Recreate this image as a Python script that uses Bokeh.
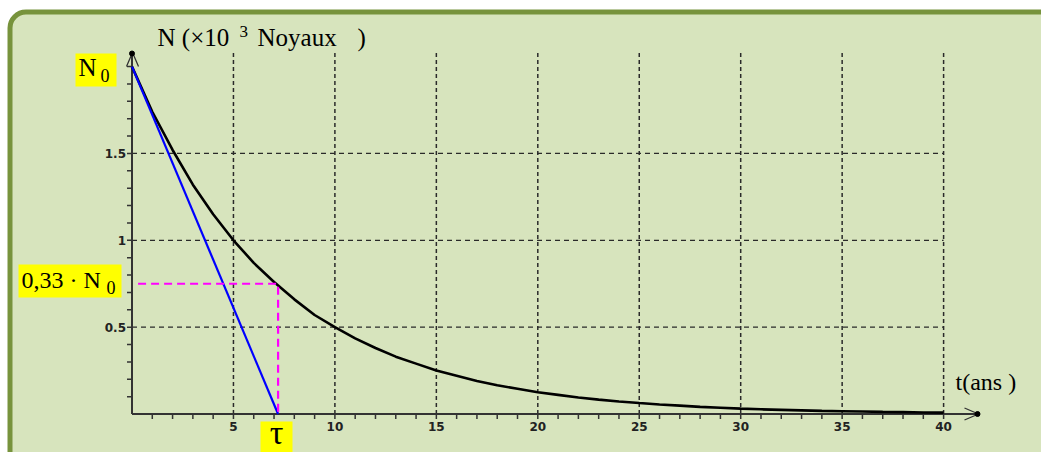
import numpy as np
from bokeh.plotting import figure
from bokeh.models import BoxAnnotation, Range1d, Grid
from bokeh.core.properties import value
from bokeh.embed import file_html
from bokeh.resources import INLINE

# ---------------- data ----------------
t_years = list(range(0, 41))
N_kilo = [2.0, 1.74, 1.52, 1.32, 1.15, 1.0, 0.87, 0.76, 0.66, 0.57,
          0.5, 0.435, 0.38, 0.33, 0.29, 0.25, 0.22, 0.19, 0.165, 0.145,
          0.125, 0.11, 0.095, 0.083, 0.072, 0.063, 0.055, 0.048, 0.041, 0.036,
          0.031, 0.027, 0.024, 0.021, 0.018, 0.016, 0.014, 0.012, 0.011, 0.009,
          0.008]
tangent_t = [0.0, 7.2]
tangent_N = [2.0, 0.0]
tau_value = 7.2
N_tau = 0.75
x_ticks = [5, 10, 15, 20, 25, 30, 35, 40]
x_tick_labels = ["5", "10", "15", "20", "25", "30", "35", "40"]
y_ticks = [0.5, 1.0, 1.5]
y_tick_labels = ["0.5", "1", "1.5"]
x_minor = list(range(1, 41))
y_minor = [round(0.1 * k, 1) for k in range(1, 21)]

# ---------------- pixel geometry ----------------
W, H = 1041, 452
PX0, PXU = 131.5, 20.29   # pixel of t=0, pixels per year
PY0, PYU = 413.5, 173.7   # pixel of N=0, pixels per unit


def X(px):
    return (px - PX0) / PXU


def Y(py):
    return (PY0 - py) / PYU


def dx(n):
    return n / PXU


def dy(n):
    return n / PYU


p = figure(width=W, height=H,
           x_range=Range1d(X(0), X(W)), y_range=Range1d(Y(H), Y(0)),
           output_backend="svg", toolbar_location=None, min_border=0,
           x_axis_location=None, y_axis_location=None,
           outline_line_color=None, background_fill_color="white",
           border_fill_color="white")
for r in list(p.center):
    if isinstance(r, Grid):
        r.visible = False

# green rounded panel
panel = BoxAnnotation(left=X(9.5), right=X(1090), top=Y(11.5), bottom=Y(490),
                      fill_color="#d7e4bd", fill_alpha=1.0,
                      line_color="#77933c", line_width=5, line_alpha=1.0,
                      border_radius=16, level="underlay")
p.add_layout(panel)

SERIF = value("Liberation Serif")
SANS = value("DejaVu Sans")
GRID_C = "#2a2a2a"
AX_C = "#333333"

# grid lines
p.segment(x0=x_ticks, y0=0, x1=x_ticks, y1=Y(50), line_color=GRID_C,
          line_width=1.5, line_dash="4 3")
p.segment(x0=0, y0=y_ticks, x1=40, y1=y_ticks, line_color=GRID_C,
          line_width=1.3, line_dash="5 4")

# minor ticks
p.segment(x0=x_minor, y0=0, x1=x_minor, y1=-dy(5), line_color=AX_C, line_width=1.5)
p.segment(x0=-dx(5), y0=y_minor, x1=0, y1=y_minor, line_color=AX_C, line_width=1.5)

# axes with arrows
p.line([0, X(978)], [0, 0], line_color=AX_C, line_width=2)
p.line([0, 0], [0, Y(52)], line_color=AX_C, line_width=2)
p.line([X(964), X(978), X(964)], [dy(6), 0, -dy(6)], line_color=AX_C, line_width=1.3)
p.line([X(126), X(132), X(138)], [Y(66), Y(52), Y(66)], line_color=AX_C, line_width=1.3)
p.scatter([X(977)], [0], size=5, color="black")
p.scatter([0], [Y(53)], size=5, color="black")

# yellow highlight boxes
p.quad(left=[X(75), X(18), X(260)], right=[X(116), X(121), X(292)],
       top=[Y(53), Y(264), Y(421)], bottom=[Y(86), Y(297), Y(452)],
       fill_color="#ffff00", line_color=None)

# curves
p.line(t_years, N_kilo, line_color="black", line_width=2.6)
p.line(tangent_t, tangent_N, line_color="#0000ff", line_width=2.2)
p.line([0.3, tau_value, tau_value], [N_tau, N_tau, 0], line_color="#ff00ff",
       line_width=2.2, line_dash="8 5")

# tick labels
p.text(x=x_ticks, y=-dy(8), text=x_tick_labels, text_align="center",
       text_baseline="top", text_font=SANS, text_font_size="12px",
       text_font_style="bold", text_color="#222222")
p.text(x=-dx(6), y=y_ticks, text=y_tick_labels, text_align="right",
       text_baseline="middle", text_font=SANS, text_font_size="12px",
       text_font_style="bold", text_color="#222222")


# serif annotations (py = vertical middle of the text line)
def serif_text(px, py, s, size, align="left"):
    p.text(x=[X(px)], y=[Y(py)], text=[s], text_font=SERIF,
           text_font_size=f"{size}px", text_color="black",
           text_align=align, text_baseline="middle")


# title of the vertical axis
serif_text(157, 37, "N (\u00d710", 25)
serif_text(239, 31, "3", 17)
serif_text(257, 37, "Noyaux", 25)
serif_text(357, 37, ")", 25)

# N0
serif_text(78, 67, "N", 25)
serif_text(100, 75, "0", 18)
# 0,33 . N0
serif_text(21, 279, "0,33 \u00b7 N", 24)
serif_text(106, 287, "0", 18)
# tau
serif_text(276, 432, "\u03c4", 34, align="center")
# time axis label
serif_text(955, 381, "t(ans )", 24)

open("out.html", "w").write(file_html(p, INLINE))
